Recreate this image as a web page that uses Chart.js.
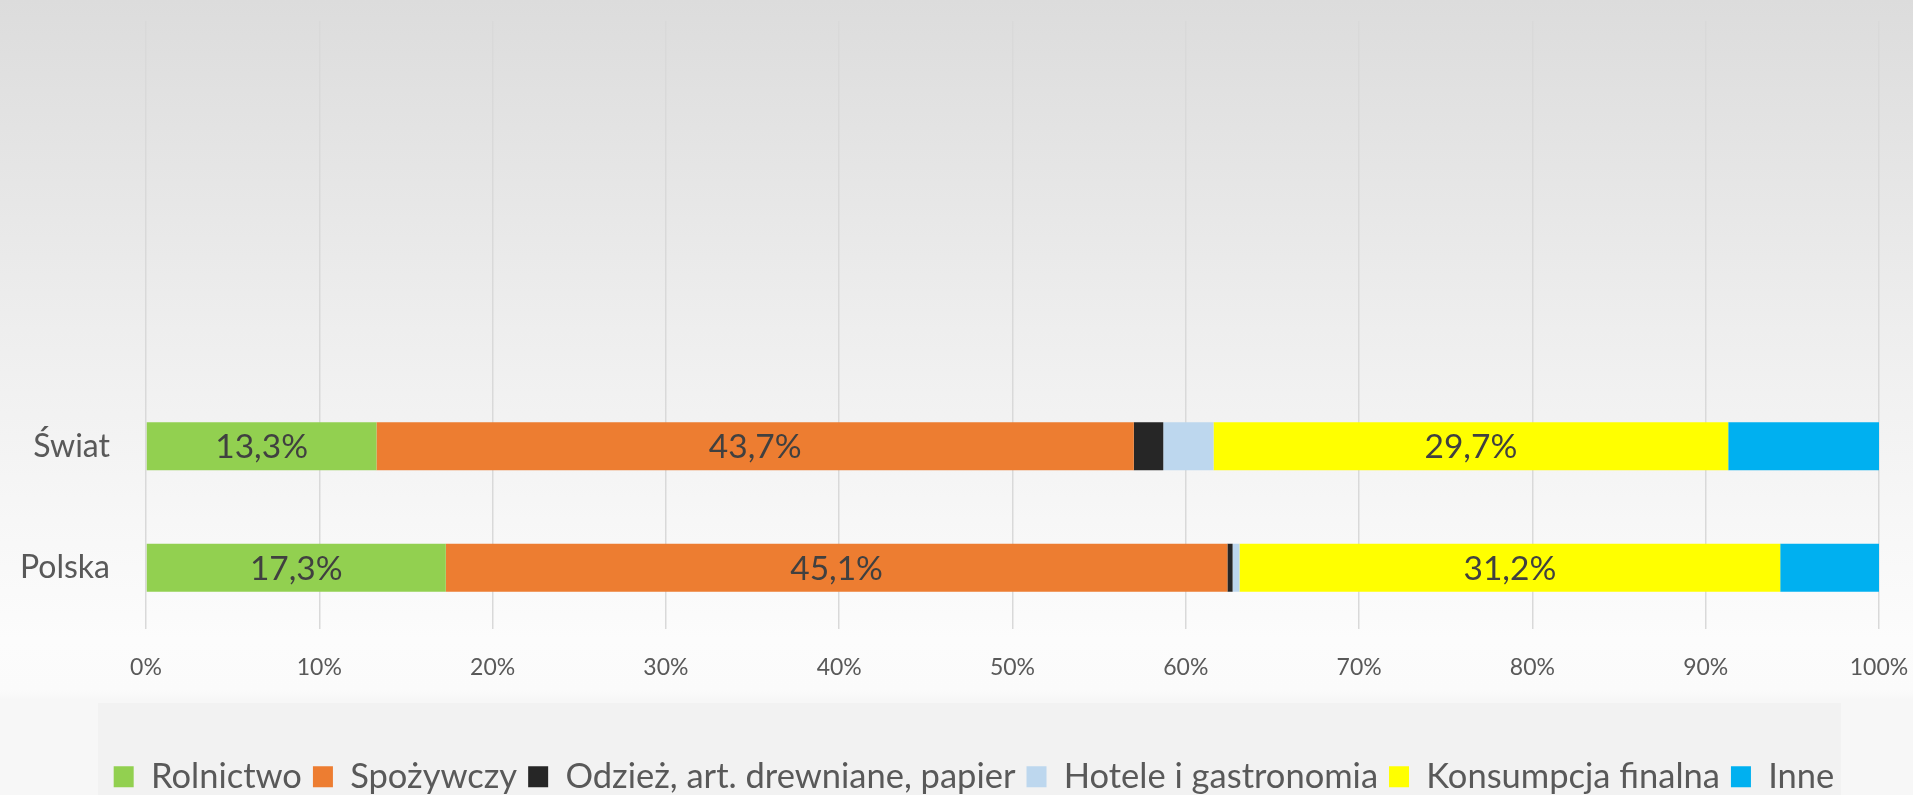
<!DOCTYPE html>
<html>
<head>
<meta charset="utf-8">
<script src="https://cdn.jsdelivr.net/npm/chart.js@4/dist/chart.umd.min.js"></script>
<style>
    html, body {
        margin: 0;
        padding: 0;
    }
    body {
        width: 1913px;
        height: 795px;
        overflow: hidden;
        background: linear-gradient(#dcdcdc 0px, #eeeeee 330px, #f7f7f7 520px, #fcfcfc 640px, #fbfbfb 690px, #f7f7f7 700px, #f7f7f7 795px);
    }
    canvas {
        display: block;
    }
</style>
</head>
<body>
<canvas id="barChart" width="1913" height="795"></canvas>
<script>
// data (percent shares)
var categories = ['Świat', 'Polska'];
var seriesNames = ['Rolnictwo', 'Spożywczy', 'Odzież, art. drewniane, papier', 'Hotele i gastronomia', 'Konsumpcja finalna', 'Inne'];
var seriesColors = ['#92D050', '#ED7D31', '#262626', '#BDD7EE', '#FFFF00', '#00B0F0'];
var rolnictwo = [13.3, 17.3];
var spozywczy = [43.7, 45.1];
var odziez = [1.7, 0.3];
var hotele = [2.9, 0.4];
var konsumpcja = [29.7, 31.2];
var inne = [8.7, 5.7];
var showValue = [true, true, false, false, true, false];
var xTicks = [0, 10, 20, 30, 40, 50, 60, 70, 80, 90, 100];

// the original axis has 3 empty rows above the two bars
var emptyRows = 3;
var labels = [];
for (var i = 0; i < emptyRows; i++) labels.push('');
labels = labels.concat(categories);

function padRows(values) {
    var out = [];
    for (var i = 0; i < emptyRows; i++) out.push(null);
    return out.concat(values);
}

var allSeries = [rolnictwo, spozywczy, odziez, hotele, konsumpcja, inne];
var datasets = [];
for (var s = 0; s < allSeries.length; s++) {
    datasets.push({
        label: seriesNames[s],
        data: padRows(allSeries[s]),
        backgroundColor: seriesColors[s],
        borderWidth: 0,
        categoryPercentage: 1,
        barPercentage: 0.395
    });
}

function pl(v) {
    return v.toFixed(1).replace('.', ',') + '%';
}

// grey box behind the legend, and legend centred like the original
var legendBox = {
    id: 'legendBox',
    afterLayout: function (chart) {
        chart.legend.left = 69;
    },
    beforeDraw: function (chart) {
        var ctx = chart.ctx;
        ctx.save();
        ctx.fillStyle = '#f2f2f2';
        ctx.fillRect(98, 703, 1743, 92);
        ctx.restore();
    }
};

// value labels inside the bars
var barLabels = {
    id: 'barLabels',
    afterDatasetsDraw: function (chart) {
        var ctx = chart.ctx;
        ctx.save();
        ctx.font = '33.5px Lato';
        ctx.fillStyle = '#404040';
        ctx.textAlign = 'center';
        ctx.textBaseline = 'middle';
        chart.data.datasets.forEach(function (ds, di) {
            if (!showValue[di]) return;
            var meta = chart.getDatasetMeta(di);
            meta.data.forEach(function (bar, j) {
                var v = ds.data[j];
                if (v === null) return;
                var p = bar.getProps(['x', 'y', 'base'], true);
                ctx.fillText(pl(v), (p.x + p.base) / 2, p.y + 1);
            });
        });
        ctx.restore();
    }
};

var ctx = document.getElementById('barChart').getContext('2d');
var chart = new Chart(ctx, {
    type: 'bar',
    data: {
        labels: labels,
        datasets: datasets
    },
    options: {
        indexAxis: 'y',
        responsive: false,
        animation: false,
        layout: {
            padding: { top: 21, right: 34, left: 0, bottom: -9 }
        },
        scales: {
            x: {
                stacked: true,
                min: 0,
                max: 100,
                afterBuildTicks: function (scale) {
                    scale.ticks = xTicks.map(function (v) { return { value: v }; });
                },
                afterFit: function (scale) {
                    scale.height = 120;
                    scale.paddingLeft = 0;
                    scale.paddingRight = 0;
                },
                grid: {
                    color: '#d9d9d9',
                    lineWidth: 1.5,
                    drawTicks: false
                },
                border: { display: false },
                ticks: {
                    padding: 25,
                    color: '#595959',
                    font: { family: 'Lato', size: 23 },
                    callback: function (v) { return v + '%'; }
                }
            },
            y: {
                stacked: true,
                afterFit: function (scale) {
                    scale.width = 146;
                    scale.paddingTop = 0;
                    scale.paddingBottom = 0;
                },
                grid: { display: false, drawTicks: false },
                border: { display: false },
                ticks: {
                    padding: 36,
                    color: '#595959',
                    font: { family: 'Lato', size: 32 }
                }
            }
        },
        plugins: {
            tooltip: { enabled: false },
            legend: {
                position: 'bottom',
                labels: {
                    boxWidth: 20,
                    boxHeight: 21,
                    padding: 11,
                    color: '#595959',
                    font: { family: 'Lato', size: 34.5 }
                }
            }
        }
    },
    plugins: [legendBox, barLabels]
});
</script>
</body>
</html>
